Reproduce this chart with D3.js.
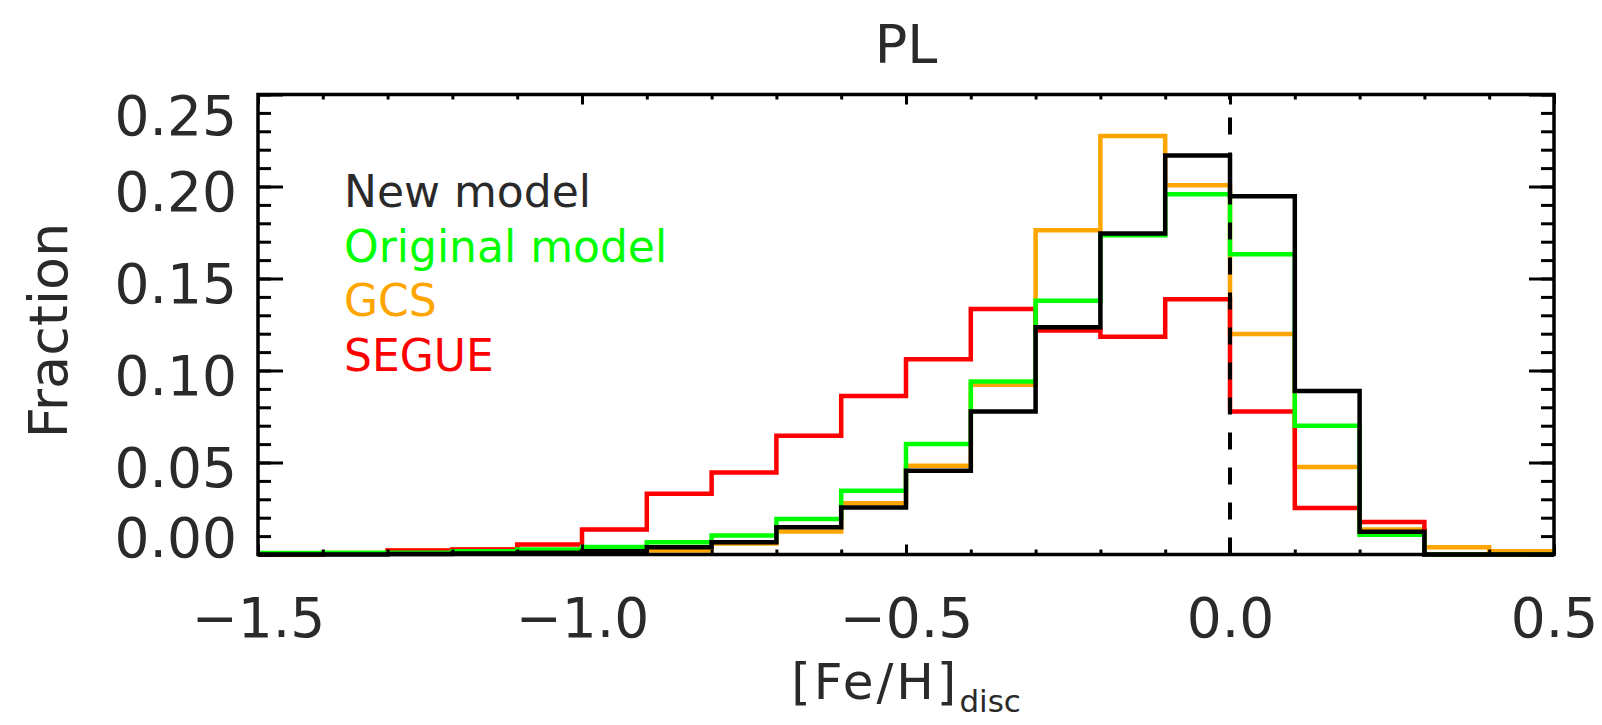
<!DOCTYPE html>
<html>
<head>
<meta charset="utf-8">
<script src="https://cdn.jsdelivr.net/npm/d3@7"></script>
<style>
  html, body { margin: 0; padding: 0; background: #fff; }
  svg { display: block; }
  text { font-family: "DejaVu Sans", sans-serif; fill: #2a2a2a; }
</style>
</head>
<body>
<svg id="chart" width="1602" height="725"></svg>
<script>
// ---- data ----
const binStart = [-1.5,-1.4,-1.3,-1.2,-1.1,-1.0,-0.9,-0.8,-0.7,-0.6,-0.5,-0.4,-0.3,-0.2,-0.1,0.0,0.1,0.2,0.3,0.4];
const binEnd = 0.5;
const newModel      = [0,0,0.0003,0.0005,0.001,0.0018,0.004,0.0066,0.0148,0.0256,0.0455,0.0777,0.1235,0.1744,0.2169,0.1947,0.0889,0.0123,0,0];
const originalModel = [0.0008,0.001,0.001,0.0018,0.0027,0.0041,0.0066,0.0103,0.0193,0.0346,0.060,0.094,0.1379,0.1735,0.1958,0.1632,0.070,0.0108,0,0];
const gcs           = [0,0.0005,0.0022,0.0027,0.002,0.001,0.0022,0.006,0.0125,0.0278,0.0482,0.0922,0.1762,0.2274,0.2007,0.1198,0.0475,0.0136,0.004,0.0018];
const segue         = [0,0.0005,0.0022,0.0027,0.0054,0.0136,0.033,0.0446,0.0645,0.0862,0.1061,0.1334,0.1217,0.1184,0.1387,0.0777,0.0253,0.0177,0,0];
const seriesNames = ["GCS","SEGUE","Original model","New model"];
const legendOrder = ["New model","Original model","GCS","SEGUE"];
const xTicks = [-1.5,-1.0,-0.5,0.0,0.5];
const xTickLabels = ["\u22121.5","\u22121.0","\u22120.5","0.0","0.5"];
const yTicks = [0,0.05,0.10,0.15,0.20,0.25];
const yTickLabels = ["0.00","0.05","0.10","0.15","0.20","0.25"];
const xDomain = [-1.5, 0.5];
const yDomain = [0, 0.25];
const refLine = 0.0;
const title = "PL";

// ---- layout ----
const L = 258, R = 1554, T = 94.5, B = 554.5;
const colors = {"New model":"#000000","Original model":"#00ff00","GCS":"#ffa500","SEGUE":"#ff0000"};
const values = {"New model":newModel,"Original model":originalModel,"GCS":gcs,"SEGUE":segue};

const svg = d3.select("#chart");
const x = d3.scaleLinear().domain(xDomain).range([L, R]);
const y = d3.scaleLinear().domain(yDomain).range([B, T]);

// histograms
const line = d3.line().x(d => x(d[0])).y(d => y(d[1])).curve(d3.curveStepAfter);
seriesNames.forEach(name => {
  const v = values[name];
  const pts = binStart.map((b, i) => [b, v[i]]);
  pts.push([binEnd, v[v.length - 1]]);
  svg.append("path").attr("d", line(pts))
    .attr("fill", "none").attr("stroke", colors[name])
    .attr("stroke-width", 4.5).attr("stroke-linejoin", "miter");
});

// dashed reference line
svg.append("line")
  .attr("x1", x(refLine)).attr("x2", x(refLine))
  .attr("y1", y(0)).attr("y2", y(yDomain[1]))
  .attr("stroke", "#000").attr("stroke-width", 4)
  .attr("stroke-dasharray", "17 18");

// axes (ticks inward)
function styleAxis(g) {
  g.select(".domain").remove();
  g.selectAll(".tick line").attr("stroke", "#000").attr("stroke-width", 3);
}
const xMinor = x.ticks(20);
const yMinor = y.ticks(25);

// bottom
svg.append("g").attr("transform", `translate(0,${B})`)
  .call(d3.axisBottom(x).tickValues(xMinor).tickSize(-5).tickFormat(""))
  .call(styleAxis);
const gxb = svg.append("g").attr("transform", `translate(0,${B})`)
  .call(d3.axisBottom(x).tickValues(xTicks).tickSize(-10).tickPadding(0)
        .tickFormat((d, i) => xTickLabels[i]))
  .call(styleAxis);
gxb.selectAll(".tick text").attr("y", 82).attr("dy", 0)
  .style("font-size", "55px").attr("fill", "#2a2a2a");
// top
svg.append("g").attr("transform", `translate(0,${T})`)
  .call(d3.axisTop(x).tickValues(xMinor).tickSize(-5).tickFormat(""))
  .call(styleAxis);
svg.append("g").attr("transform", `translate(0,${T})`)
  .call(d3.axisTop(x).tickValues(xTicks).tickSize(-10).tickFormat(""))
  .call(styleAxis);
// left
svg.append("g").attr("transform", `translate(${L},0)`)
  .call(d3.axisLeft(y).tickValues(yMinor).tickSize(-13).tickFormat(""))
  .call(styleAxis);
const gyl = svg.append("g").attr("transform", `translate(${L},0)`)
  .call(d3.axisLeft(y).tickValues(yTicks).tickSize(-25).tickPadding(0)
        .tickFormat((d, i) => yTickLabels[i]))
  .call(styleAxis);
gyl.selectAll(".tick text")
  .attr("x", -21).attr("dy", 0)
  .attr("y", (d, i) => i === 0 ? 2 : (i === yTicks.length - 1 ? 40 : 24))
  .style("font-size", "55px").attr("fill", "#2a2a2a");
// right
svg.append("g").attr("transform", `translate(${R},0)`)
  .call(d3.axisRight(y).tickValues(yMinor).tickSize(-13).tickFormat(""))
  .call(styleAxis);
svg.append("g").attr("transform", `translate(${R},0)`)
  .call(d3.axisRight(y).tickValues(yTicks).tickSize(-25).tickFormat(""))
  .call(styleAxis);

// frame
svg.append("rect").attr("x", L).attr("y", T).attr("width", R - L).attr("height", B - T)
  .attr("fill", "none").attr("stroke", "#000").attr("stroke-width", 3.5);

// title
svg.append("text").attr("x", (L + R) / 2).attr("y", 63)
  .attr("text-anchor", "middle").style("font-size", "54px").text(title);

// x axis title
const xt = svg.append("text").attr("x", (L + R) / 2).attr("y", 699)
  .attr("text-anchor", "middle").style("font-size", "50px").style("letter-spacing", "3px");
xt.append("tspan").text("[Fe/H]");
xt.append("tspan").attr("dy", 13).style("font-size", "31px").style("letter-spacing", "0px").text("disc");

// y axis title
svg.append("text").attr("transform", `translate(67,${(T + B) / 2 + 6}) rotate(-90)`)
  .attr("text-anchor", "middle").style("font-size", "54px").text("Fraction");

// legend
legendOrder.forEach((name, i) => {
  const c = name === "New model" ? "#2a2a2a" : colors[name];
  svg.append("text").attr("x", 344).attr("y", 207 + i * 54.5)
    .style("font-size", "44px").style("fill", c)
    .text(name);
});
</script>
</body>
</html>
